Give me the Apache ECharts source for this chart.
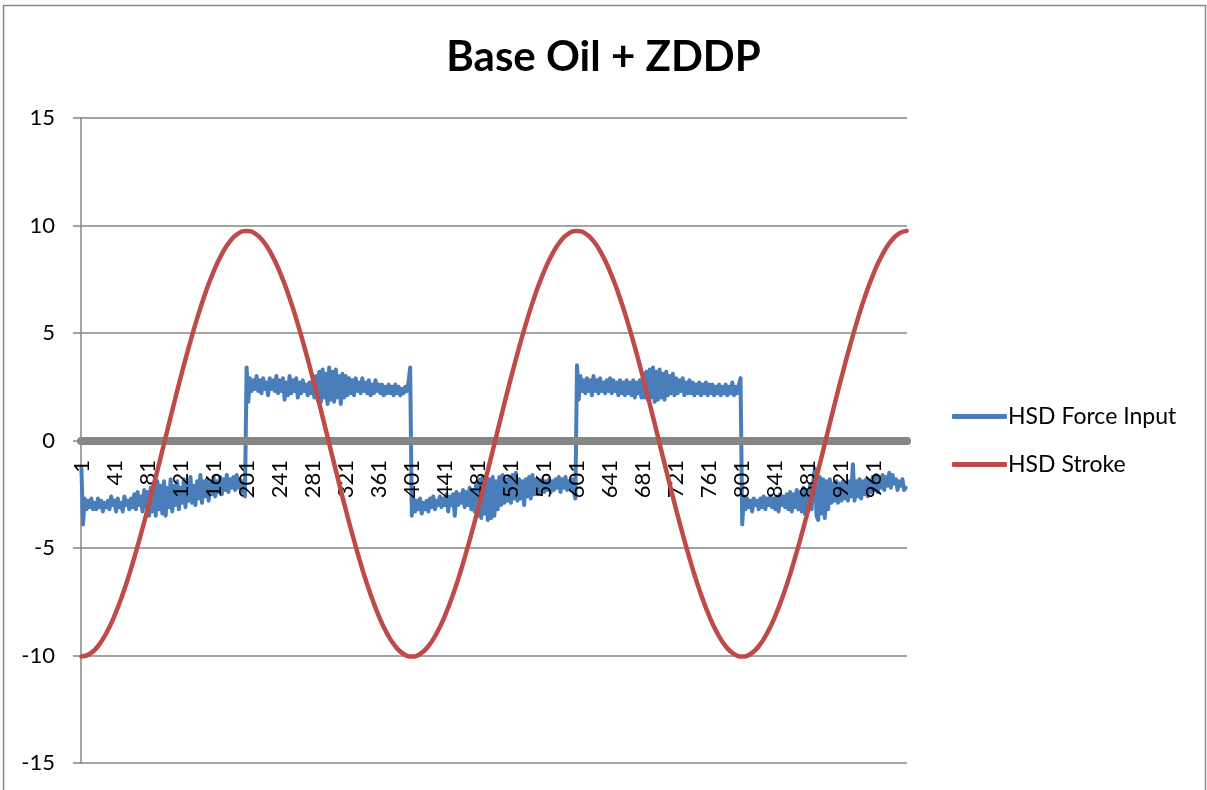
<!DOCTYPE html>
<html>
<head>
<meta charset="utf-8">
<script src="https://cdn.jsdelivr.net/npm/echarts@6/dist/echarts.min.js"></script>
<style>
html,body{margin:0;padding:0;background:#fff;}
#chart{width:1207px;height:790px;}
</style>
</head>
<body>
<div id="chart"></div>
<script>
// ---- data ----
const chartTitle = 'Base Oil + ZDDP';
const seriesNames = ['HSD Force Input', 'HSD Stroke'];
const categoryCount = 1000;
const categories = Array.from({length: categoryCount}, (_, i) => String(i + 1));
const yTicks = {min: -15, max: 15, step: 5};

// HSD Force Input: one value for every 2nd category (categories 1, 3, 5, ... 999)
const forceSampleStep = 2;
const forceInput = [
  // categories 1-199
  -1.3,-3.9,-2.7,-3.2,-2.8,-3.1,-2.7,-3.2,-2.9,-3.2,
  -2.7,-3.1,-2.8,-3.3,-2.9,-3.1,-2.8,-3.2,-2.6,-3.0,
  -2.8,-3.3,-2.7,-3.1,-2.9,-3.3,-2.6,-3.0,-2.8,-3.2,
  -2.7,-3.1,-2.5,-3.2,-2.4,-3.0,-2.6,-3.3,-2.3,-3.1,
  -2.4,-3.5,-2.2,-3.3,-2.0,-3.5,-1.9,-3.2,-2.1,-3.4,
  -1.9,-3.5,-2.2,-3.1,-1.8,-3.3,-2.1,-3.0,-1.9,-3.2,
  -2.2,-2.9,-1.8,-3.1,-2.0,-2.8,-1.7,-2.9,-2.1,-3.0,
  -1.9,-2.7,-1.6,-2.9,-1.9,-2.6,-1.8,-2.8,-2.0,-2.5,
  -1.7,-2.6,-1.9,-2.4,-1.7,-2.5,-1.8,-2.3,-1.6,-2.4,
  -1.8,-2.2,-1.7,-2.3,-1.6,-2.2,-1.8,-2.4,-1.9,-2.6,
  // categories 201-399
  3.4,1.8,2.9,2.3,2.8,2.4,3.0,2.3,2.8,2.2,
  2.9,2.4,2.7,2.1,2.9,2.4,2.8,2.3,3.0,2.2,
  2.8,2.3,2.9,1.9,2.7,2.1,3.0,2.2,2.8,2.3,
  2.9,2.0,2.7,2.2,2.8,2.3,2.6,2.1,2.7,2.2,
  2.8,2.0,3.0,1.9,3.2,1.8,3.3,2.0,3.1,1.7,
  3.4,1.9,3.2,1.8,3.3,2.0,3.0,1.7,3.1,2.0,
  3.0,2.1,2.9,2.2,2.8,2.1,2.9,2.3,2.7,2.2,
  2.9,2.3,2.7,2.2,2.8,2.1,2.6,2.2,2.8,2.3,
  2.6,2.2,2.6,2.1,2.5,2.2,2.6,2.2,2.5,2.1,
  2.6,2.2,2.5,2.1,2.4,2.2,2.5,2.3,2.7,3.4,
  // categories 401-599
  -3.5,-2.7,-3.3,-2.8,-3.2,-2.7,-3.4,-2.9,-3.2,-2.8,
  -3.3,-2.7,-3.1,-2.6,-3.2,-2.8,-3.0,-2.6,-3.1,-2.7,
  -3.0,-2.5,-3.3,-2.6,-3.0,-2.5,-3.5,-2.4,-3.0,-2.5,
  -2.9,-2.3,-3.1,-2.4,-3.0,-2.2,-3.2,-2.3,-3.3,-2.0,
  -3.5,-1.8,-3.6,-1.7,-3.4,-1.6,-3.7,-1.8,-3.6,-1.7,
  -3.5,-1.9,-3.2,-1.7,-3.0,-1.6,-2.9,-1.8,-2.8,-1.7,
  -2.9,-1.6,-2.7,-1.5,-2.8,-1.8,-2.7,-1.9,-3.0,-1.8,
  -2.6,-1.7,-2.7,-1.6,-2.5,-1.8,-2.5,-1.9,-2.4,-1.8,
  -2.4,-1.9,-2.3,-1.8,-2.4,-1.9,-2.3,-1.8,-2.2,-1.7,
  -2.4,-1.8,-2.2,-1.7,-2.3,-1.9,-2.2,-1.8,-2.3,-2.7,
  // categories 601-799
  3.5,1.9,3.0,2.3,2.8,2.2,2.9,2.3,2.8,2.1,
  3.0,2.3,2.8,2.2,2.9,2.3,2.7,2.2,2.8,2.3,
  2.9,2.2,2.8,2.3,2.7,2.1,2.8,2.2,2.7,2.1,
  2.8,2.2,2.7,2.1,2.8,2.0,2.7,2.2,2.8,2.0,
  3.1,2.0,3.2,1.9,3.3,2.0,3.4,1.8,3.2,1.9,
  3.3,2.0,3.1,1.9,3.2,2.1,3.0,2.2,3.1,2.1,
  2.9,2.2,2.8,2.3,2.9,2.1,2.7,2.2,2.8,2.2,
  2.7,2.1,2.6,2.2,2.7,2.1,2.6,2.2,2.7,2.1,
  2.6,2.2,2.6,2.1,2.5,2.2,2.6,2.1,2.5,2.2,
  2.6,2.1,2.5,2.2,2.7,2.1,2.5,2.2,2.6,2.9,
  // categories 801-999
  -3.9,-2.6,-3.2,-2.7,-3.1,-2.8,-3.3,-2.7,-3.0,-2.8,
  -3.2,-2.7,-3.1,-2.6,-3.2,-2.7,-3.0,-2.6,-3.1,-2.7,
  -3.2,-2.6,-3.3,-2.5,-3.0,-2.6,-3.1,-2.5,-3.2,-2.4,
  -3.3,-2.5,-3.1,-2.3,-3.2,-2.4,-3.3,-2.2,-3.4,-2.3,
  -3.1,-2.1,-3.2,-1.9,-1.3,-3.5,-3.7,-1.7,-3.4,-1.8,
  -3.6,-1.9,-3.2,-1.8,-2.9,-2.0,-2.8,-1.9,-2.9,-2.0,
  -2.8,-1.9,-2.7,-2.0,-2.8,-1.9,-2.6,-1.1,-2.8,-1.9,
  -2.6,-1.8,-2.7,-1.9,-2.5,-1.8,-2.6,-1.9,-2.4,-1.7,
  -2.3,-1.6,-2.4,-1.7,-2.2,-1.6,-2.3,-1.7,-2.1,-1.5,
  -2.2,-1.6,-2.0,-1.8,-2.3,-1.9,-2.1,-1.8,-2.3,-2.2
];

// HSD Stroke: [category index, value]
const stroke = [
  [0,-10.05],[10,-9.93],[20,-9.57],[30,-8.97],[40,-8.16],[50,-7.15],[60,-5.97],[70,-4.64],[80,-3.21],[90,-1.70],
  [100,-0.15],[110,1.40],[120,2.91],[130,4.34],[140,5.67],[150,6.85],[160,7.86],[170,8.67],[180,9.27],[190,9.63],
  [200,9.75],[210,9.63],[220,9.27],[230,8.67],[240,7.86],[250,6.85],[260,5.67],[270,4.34],[280,2.91],[290,1.40],
  [300,-0.15],[310,-1.70],[320,-3.21],[330,-4.64],[340,-5.97],[350,-7.15],[360,-8.16],[370,-8.97],[380,-9.57],[390,-9.93],
  [400,-10.05],[410,-9.93],[420,-9.57],[430,-8.97],[440,-8.16],[450,-7.15],[460,-5.97],[470,-4.64],[480,-3.21],[490,-1.70],
  [500,-0.15],[510,1.40],[520,2.91],[530,4.34],[540,5.67],[550,6.85],[560,7.86],[570,8.67],[580,9.27],[590,9.63],
  [600,9.75],[610,9.63],[620,9.27],[630,8.67],[640,7.86],[650,6.85],[660,5.67],[670,4.34],[680,2.91],[690,1.40],
  [700,-0.15],[710,-1.70],[720,-3.21],[730,-4.64],[740,-5.97],[750,-7.15],[760,-8.16],[770,-8.97],[780,-9.57],[790,-9.93],
  [800,-10.05],[810,-9.93],[820,-9.57],[830,-8.97],[840,-8.16],[850,-7.15],[860,-5.97],[870,-4.64],[880,-3.21],[890,-1.70],
  [900,-0.15],[910,1.40],[920,2.91],[930,4.34],[940,5.67],[950,6.85],[960,7.86],[970,8.67],[980,9.27],[990,9.63],
  [999,9.75]
];

// ---- chart ----
const FONT = 'Lato, "Open Sans", sans-serif';
const forceData = forceInput.map((v, i) => [i * forceSampleStep, v]);
const chart = echarts.init(document.getElementById('chart'), null, {renderer: 'canvas'});
chart.setOption({
  animation: false,
  backgroundColor: '#fff',
  graphic: [{
    type: 'rect', silent: true, z: -10,
    shape: {x: 3.5, y: 5.5, width: 1202, height: 820},
    style: {fill: 'none', stroke: '#8a8a8a', lineWidth: 1.5}
  }],
  title: {
    text: chartTitle, left: 'center', top: 31,
    textStyle: {fontFamily: FONT, fontWeight: 'bold', fontSize: 42, color: '#000'}
  },
  legend: {
    orient: 'vertical', left: 947, top: 400, itemGap: 25,
    itemWidth: 55, itemHeight: 5, icon: 'roundRect',
    textStyle: {fontFamily: FONT, fontSize: 23, color: '#000', padding: [0, 0, 0, -4]},
    data: seriesNames
  },
  grid: {left: 81, right: 300, top: 118, bottom: 27, containLabel: false, outerBoundsMode: 'none'},
  xAxis: {
    type: 'category', data: categories, boundaryGap: true, z: 10,
    axisLine: {onZero: true, lineStyle: {color: '#868686', width: 8}},
    axisTick: {show: false},
    // labels sit just under the zero line (axis line is on zero, labels anchor at grid bottom)
    axisLabel: {interval: 39, rotate: 90, margin: -303, fontFamily: FONT, fontSize: 22, color: '#000'},
    splitLine: {show: false}
  },
  yAxis: {
    type: 'value', min: yTicks.min, max: yTicks.max, interval: yTicks.step,
    axisLine: {show: true, lineStyle: {color: '#868686', width: 1.5}},
    axisTick: {show: true, length: 8, lineStyle: {color: '#868686', width: 1.5}},
    axisLabel: {margin: 26, fontFamily: FONT, fontSize: 22, color: '#000'},
    splitLine: {show: true, lineStyle: {color: '#868686', width: 1.5}}
  },
  series: [
    {
      name: seriesNames[0], type: 'line', data: forceData, showSymbol: false, symbol: 'none',
      lineStyle: {color: '#4a7ebb', width: 4, join: 'round', cap: 'round'},
      itemStyle: {color: '#4a7ebb'}, z: 2
    },
    {
      name: seriesNames[1], type: 'line', data: stroke, showSymbol: false, symbol: 'none', smooth: true,
      lineStyle: {color: '#be4b48', width: 4.5, cap: 'round'},
      itemStyle: {color: '#be4b48'}, z: 12
    }
  ]
});
</script>
</body>
</html>
